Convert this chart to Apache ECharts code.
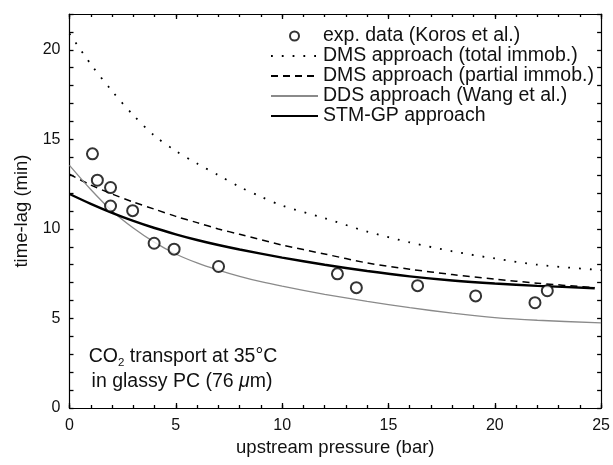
<!DOCTYPE html>
<html>
<head>
<meta charset="utf-8">
<script src="https://cdn.jsdelivr.net/npm/echarts@6/dist/echarts.min.js"></script>
<style>html,body{margin:0;padding:0;background:#fff}#c{width:613px;height:465px}</style>
</head>
<body>
<div id="c"></div>
<script>
// experimental data (Koros et al.)
const expPressure = [1.08, 1.31, 1.93, 1.93, 2.97, 3.98, 4.92, 7.01, 12.6, 13.49, 16.37, 19.1, 21.89, 22.47];
const expLag      = [14.19, 12.72, 12.31, 11.28, 11.02, 9.2, 8.87, 7.9, 7.49, 6.72, 6.83, 6.26, 5.88, 6.55];

// DMS approach (total immob.)
const totalP   = [0, 1, 2, 3, 4, 5, 6, 7, 8, 9, 10, 12, 14, 16, 18, 20, 22, 25];
const totalLag = [20.9, 19.2, 17.7, 16.35, 15.2, 14.35, 13.65, 13.0, 12.35, 11.8, 11.3, 10.6, 9.85, 9.25, 8.75, 8.35, 8.0, 7.7];

// DMS approach (partial immob.)
const partialP   = [0, 1, 2, 3, 4, 5, 6, 7, 8, 10, 12, 14, 16, 18, 20, 22, 24.7];
const partialLag = [13.05, 12.45, 11.95, 11.5, 11.1, 10.7, 10.35, 10.0, 9.7, 9.1, 8.6, 8.1, 7.75, 7.45, 7.2, 6.97, 6.72];

// DDS approach (Wang et al.)
const ddsP   = [0, 1, 2, 3, 4, 5, 6, 7, 8, 9, 10, 12, 14, 16, 18, 20, 22, 25];
const ddsLag = [13.55, 12.2, 11.0, 10.05, 9.25, 8.6, 8.1, 7.7, 7.35, 7.05, 6.8, 6.35, 5.95, 5.6, 5.3, 5.05, 4.9, 4.75];

// STM-GP approach
const stmP   = [0, 1, 2, 3, 4, 5, 6, 7, 8, 10, 12, 14, 16, 18, 20, 22, 24.7];
const stmLag = [11.95, 11.4, 10.9, 10.45, 10.05, 9.7, 9.38, 9.1, 8.85, 8.4, 8.0, 7.65, 7.35, 7.12, 6.95, 6.82, 6.69];

const seriesNames = ['exp. data (Koros et al.)', 'DMS approach (total immob.)', 'DMS approach (partial immob.)', 'DDS approach (Wang et al.)', 'STM-GP approach'];
const xAxisName = 'upstream pressure (bar)';
const yAxisName = 'time-lag (min)';

const FONT = 'Liberation Sans, Arial, sans-serif';
const zip = (a, b) => a.map((v, i) => [v, b[i]]);

const chart = echarts.init(document.getElementById('c'), null, {renderer: 'canvas'});

const mkAxisLine = () => ({show: true, onZero: false, lineStyle: {color: '#000', width: 1.2}});
const mkTick = (len) => ({show: true, inside: true, length: len, lineStyle: {color: '#000', width: 1.3}});
const mkX = (pos, labels, interval, tickLen, name) => ({
  type: 'value', position: pos, min: 0, max: 25, interval: interval,
  axisLine: mkAxisLine(),
  axisTick: mkTick(tickLen),
  axisLabel: {show: labels, fontSize: 16, color: '#111', fontFamily: FONT, margin: 10},
  splitLine: {show: false},
  name: name || '', nameLocation: 'middle', nameGap: 29,
  nameTextStyle: {fontSize: 18.5, color: '#111', fontFamily: FONT}
});
// y range 0..22 ticked every 1 (22 is a multiple of the interval); labels only every 5
const mkY = (pos, labels, name) => ({
  type: 'value', position: pos, min: 0, max: 22, interval: 1,
  axisLine: mkAxisLine(),
  axisTick: mkTick(4),
  axisLabel: {show: labels, fontSize: 16, color: '#111', fontFamily: FONT, margin: 9,
              formatter: (v) => (v % 5 === 0 ? String(v) : '')},
  splitLine: {show: false},
  name: name || '', nameLocation: 'middle', nameGap: 26, nameRotate: 90,
  nameTextStyle: {fontSize: 18.5, color: '#111', fontFamily: FONT}
});

const hiddenSym = {opacity: 0, borderWidth: 0};

const option = {
  backgroundColor: '#fff',
  animation: false,
  grid: {left: 69.5, right: 7, top: 14, bottom: 57, containLabel: false},
  xAxis: [
    mkX('bottom', true, 5, 5, xAxisName),
    mkX('bottom', false, 1, 3),
    mkX('top', false, 5, 5),
    mkX('top', false, 1, 3)
  ],
  yAxis: [
    mkY('left', true, yAxisName),
    mkY('right', false)
  ],
  legend: {
    orient: 'vertical', left: 265, top: 21,
    itemWidth: 47, itemHeight: 9, itemGap: 0,
    textStyle: {fontSize: 19.5, color: '#111', fontFamily: FONT, lineHeight: 18},
    data: [
      {name: seriesNames[0]},
      {name: seriesNames[1], itemStyle: hiddenSym},
      {name: seriesNames[2], itemStyle: hiddenSym},
      {name: seriesNames[3], itemStyle: hiddenSym},
      {name: seriesNames[4], itemStyle: hiddenSym}
    ]
  },
  series: [
    {
      name: seriesNames[1], type: 'line', data: zip(totalP, totalLag),
      symbol: 'none', smooth: 0.3,
      itemStyle: {color: '#000'},
      lineStyle: {color: '#000', width: 1.8, type: [1.8, 9]}
    },
    {
      name: seriesNames[2], type: 'line', data: zip(partialP, partialLag),
      symbol: 'none', smooth: 0.3,
      itemStyle: {color: '#000'},
      lineStyle: {color: '#000', width: 1.5, type: [7, 5]}
    },
    {
      name: seriesNames[3], type: 'line', data: zip(ddsP, ddsLag),
      symbol: 'none', smooth: 0.3,
      itemStyle: {color: '#8a8a8a'},
      lineStyle: {color: '#8a8a8a', width: 1.3}
    },
    {
      name: seriesNames[4], type: 'line', data: zip(stmP, stmLag),
      symbol: 'none', smooth: 0.3,
      itemStyle: {color: '#000'},
      lineStyle: {color: '#000', width: 2.4}
    },
    {
      name: seriesNames[0], type: 'scatter', data: zip(expPressure, expLag),
      symbol: 'emptyCircle', symbolSize: 11, z: 5,
      itemStyle: {color: '#000', borderColor: '#000', borderWidth: 1.5}
    }
  ],
  graphic: [
    {
      type: 'text', x: 183, y: 357,
      style: {
        text: '{a|CO}{b|2}{a| transport at 35°C}',
        align: 'center', verticalAlign: 'middle',
        rich: {
          a: {fontSize: 19.5, fontFamily: FONT, fill: '#111', lineHeight: 24, verticalAlign: 'middle'},
          b: {fontSize: 11.5, fontFamily: FONT, fill: '#111', lineHeight: 11, verticalAlign: 'bottom'}
        }
      }
    },
    {
      type: 'text', x: 182, y: 382,
      style: {
        text: '{a|in glassy PC (76 }{i|μ}{a|m)}',
        align: 'center', verticalAlign: 'middle',
        rich: {
          a: {fontSize: 19.5, fontFamily: FONT, fill: '#111'},
          i: {fontSize: 19.5, fontFamily: FONT, fill: '#111', fontStyle: 'italic'}
        }
      }
    }
  ]
};
chart.setOption(option);
</script>
</body>
</html>
